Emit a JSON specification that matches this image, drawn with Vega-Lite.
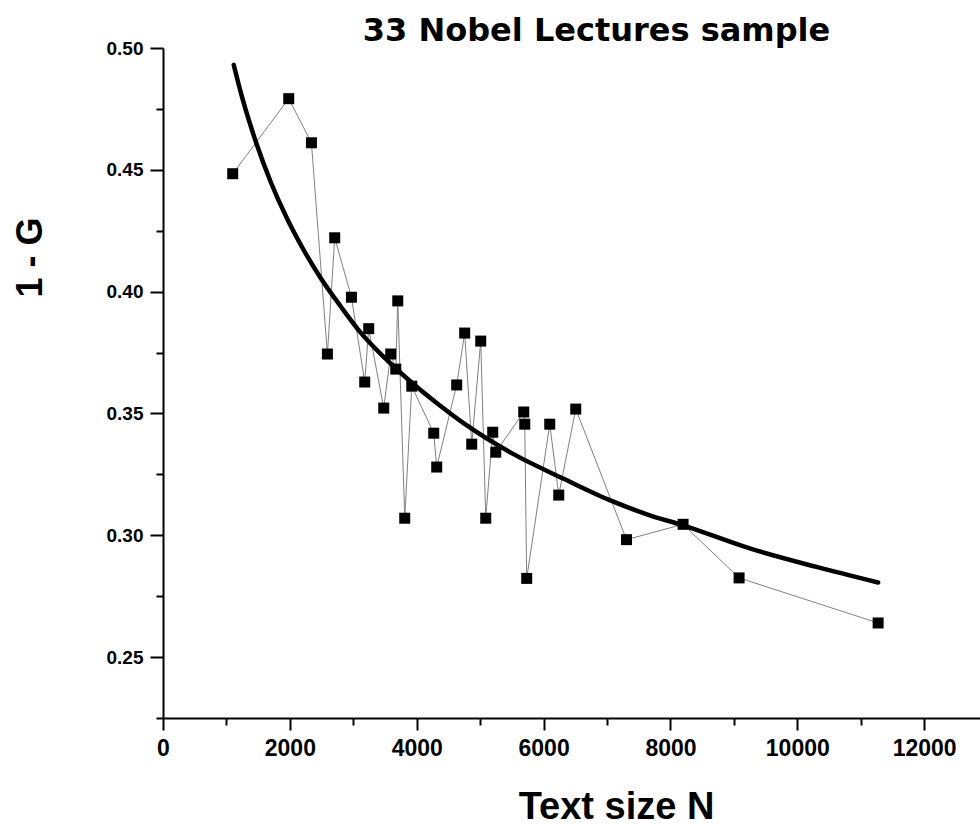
{
  "$schema": "https://vega.github.io/schema/vega-lite/v6.json",
  "autosize": {"type": "none"},
  "padding": {"left": 163, "top": 48, "right": 0, "bottom": 107},
  "width": 817,
  "height": 670,
  "background": "white",
  "title": {
    "text": "33 Nobel Lectures sample",
    "font": "DejaVu Sans",
    "fontSize": 32,
    "fontWeight": "bold",
    "color": "black",
    "anchor": "middle",
    "frame": "group",
    "dx": 25,
    "dy": 34,
    "baseline": "alphabetic",
    "offset": 0
  },
  "datasets": {
    "pts": [
      {"N": 1099, "G1": 0.4484},
      {"N": 1982, "G1": 0.4792},
      {"N": 2340, "G1": 0.4611},
      {"N": 2592, "G1": 0.3744},
      {"N": 2707, "G1": 0.4221},
      {"N": 2971, "G1": 0.3977},
      {"N": 3180, "G1": 0.3629},
      {"N": 3243, "G1": 0.3848},
      {"N": 3480, "G1": 0.3522},
      {"N": 3590, "G1": 0.3744},
      {"N": 3670, "G1": 0.3682},
      {"N": 3701, "G1": 0.3962},
      {"N": 3811, "G1": 0.3070},
      {"N": 3922, "G1": 0.3612},
      {"N": 4268, "G1": 0.3419},
      {"N": 4315, "G1": 0.3280},
      {"N": 4630, "G1": 0.3617},
      {"N": 4756, "G1": 0.3830},
      {"N": 4867, "G1": 0.3374},
      {"N": 5009, "G1": 0.3797},
      {"N": 5088, "G1": 0.3070},
      {"N": 5198, "G1": 0.3423},
      {"N": 5246, "G1": 0.3341},
      {"N": 5687, "G1": 0.3506},
      {"N": 5703, "G1": 0.3456},
      {"N": 5734, "G1": 0.2823},
      {"N": 6097, "G1": 0.3456},
      {"N": 6239, "G1": 0.3165},
      {"N": 6507, "G1": 0.3518},
      {"N": 7307, "G1": 0.2982},
      {"N": 8199, "G1": 0.3045},
      {"N": 9082, "G1": 0.2825},
      {"N": 11274, "G1": 0.2640}
    ],
    "fit": [
      {"N": 1115, "G1": 0.4931},
      {"N": 1250, "G1": 0.4795},
      {"N": 1473, "G1": 0.4608},
      {"N": 1700, "G1": 0.4449},
      {"N": 1946, "G1": 0.4305},
      {"N": 2200, "G1": 0.4179},
      {"N": 2498, "G1": 0.4051},
      {"N": 2800, "G1": 0.3940},
      {"N": 3102, "G1": 0.3836},
      {"N": 3500, "G1": 0.3727},
      {"N": 3942, "G1": 0.3622},
      {"N": 4350, "G1": 0.3536},
      {"N": 4784, "G1": 0.3452},
      {"N": 5519, "G1": 0.3334},
      {"N": 6307, "G1": 0.3233},
      {"N": 7043, "G1": 0.3144},
      {"N": 7674, "G1": 0.3082},
      {"N": 8199, "G1": 0.3041},
      {"N": 9251, "G1": 0.2946},
      {"N": 10303, "G1": 0.2870},
      {"N": 11274, "G1": 0.2806}
    ]
  },
  "encoding": {
    "x": {
      "field": "N",
      "type": "quantitative",
      "scale": {"domain": [0, 12880], "nice": false, "zero": false},
      "axis": {
        "title": "Text size N",
        "titleFont": "Liberation Sans",
        "titleFontSize": 38,
        "titleFontWeight": "bold",
        "titleColor": "black",
        "titleX": 453,
        "titleY": 100,
        "titleBaseline": "alphabetic",
        "titleAlign": "center",
        "values": [0, 1000, 2000, 3000, 4000, 5000, 6000, 7000, 8000, 9000, 10000, 11000, 12000],
        "format": "d",
        "labelExpr": "datum.value % 2000 === 0 ? datum.label : ''",
        "labelFont": "Liberation Sans",
        "labelFontSize": 23,
        "labelFontWeight": "bold",
        "labelColor": "black",
        "labelPadding": 7,
        "labelFlush": false,
        "labelOverlap": false,
        "grid": false,
        "domainColor": "black",
        "domainWidth": 2,
        "tickColor": "black",
        "tickWidth": 2,
        "tickSize": {"condition": {"test": "datum.value % 2000 === 0", "value": 12}, "value": 7}
      }
    },
    "y": {
      "field": "G1",
      "type": "quantitative",
      "scale": {"domain": [0.225, 0.5], "nice": false, "zero": false},
      "axis": {
        "title": "1 - G",
        "titleFont": "Liberation Sans",
        "titleFontSize": 36,
        "titleFontWeight": "bold",
        "titleColor": "black",
        "titleX": -122,
        "titleY": 209,
        "titleAngle": -90,
        "titleBaseline": "alphabetic",
        "titleAlign": "center",
        "values": [0.225, 0.25, 0.275, 0.3, 0.325, 0.35, 0.375, 0.4, 0.425, 0.45, 0.475, 0.5],
        "labelExpr": "round(datum.value * 100) % 5 === 0 ? format(datum.value, '.2f') : ''",
        "labelFont": "Liberation Sans",
        "labelFontSize": 19,
        "labelFontWeight": "bold",
        "labelColor": "black",
        "labelPadding": 7,
        "labelFlush": false,
        "labelOverlap": false,
        "grid": false,
        "domainColor": "black",
        "domainWidth": 2,
        "tickColor": "black",
        "tickWidth": 2,
        "tickSize": {"condition": {"test": "round(datum.value * 100) % 5 === 0", "value": 13}, "value": 7}
      }
    }
  },
  "layer": [
    {
      "data": {"name": "pts"},
      "mark": {"type": "line", "color": "#808080", "strokeWidth": 1},
      "encoding": {}
    },
    {
      "data": {"name": "fit"},
      "mark": {"type": "line", "color": "black", "strokeWidth": 4.5, "interpolate": "monotone", "strokeCap": "round"},
      "encoding": {}
    },
    {
      "data": {"name": "pts"},
      "mark": {"type": "point", "shape": "square", "filled": true, "color": "black", "opacity": 1, "size": 121},
      "encoding": {}
    }
  ],
  "config": {"view": {"stroke": null}}
}
